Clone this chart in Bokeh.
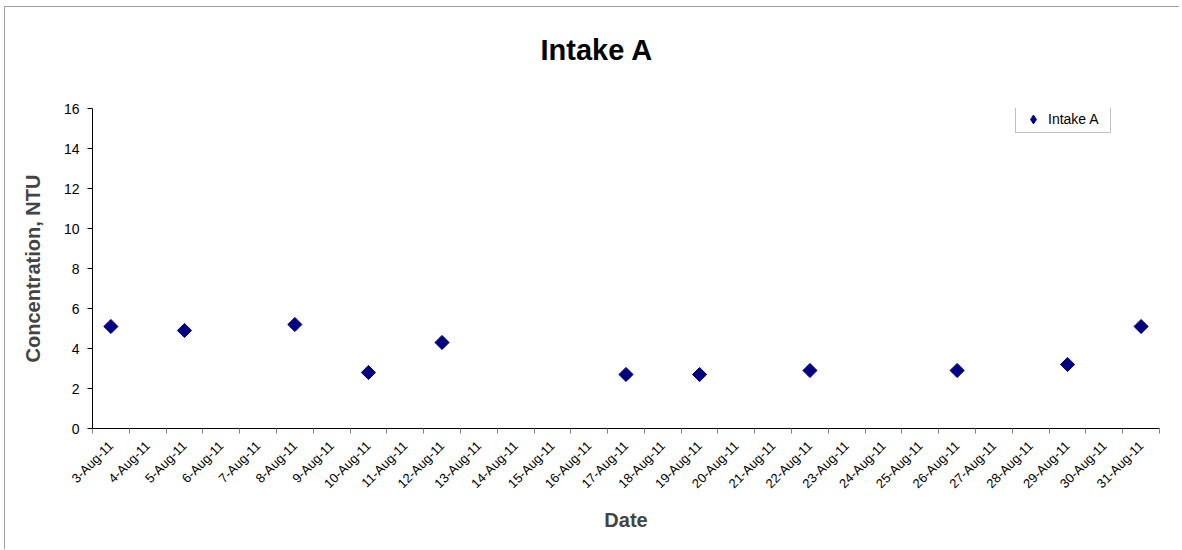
import math
from bokeh.plotting import figure
from bokeh.models import (ColumnDataSource, Range1d, LinearAxis, FixedTicker,
                          Legend, LegendItem, Title)
from bokeh.embed import file_html
from bokeh.resources import INLINE

dates = ["%d-Aug-11" % d for d in range(3, 32)]
obs_dates = ["3-Aug-11", "5-Aug-11", "8-Aug-11", "10-Aug-11", "12-Aug-11", "17-Aug-11",
             "19-Aug-11", "22-Aug-11", "26-Aug-11", "29-Aug-11", "31-Aug-11"]
intake_a = [5.1, 4.9, 5.2, 2.8, 4.3, 2.7, 2.7, 2.9, 2.9, 3.2, 5.1]
y_ticks = [0, 2, 4, 6, 8, 10, 12, 14, 16]
title_text = "Intake A"
series_name = "Intake A"

FONT = "Liberation Sans"
n = len(dates)

p = figure(x_range=Range1d(0, n), y_range=Range1d(0, 16), x_axis_location=None,
           width=1174, height=542, output_backend="svg", toolbar_location=None,
           frame_width=1067, frame_height=320,
           min_border_left=87, min_border_right=20, min_border_top=101, min_border_bottom=121)
p.title = None
p.styles = {"border-left": "1px solid #a0a0a0", "border-top": "1px solid #a0a0a0",
            "margin-left": "4px", "margin-top": "6px"}

p.outline_line_color = None
p.xgrid.grid_line_color = None
p.ygrid.grid_line_color = None
p.background_fill_color = "white"
p.border_fill_color = "white"

# invisible spacer between frame and title
spacer = LinearAxis(ticker=FixedTicker(ticks=[0]), major_label_overrides={0: ""},
                    axis_line_color=None, major_tick_line_color=None,
                    minor_tick_line_color=None, major_tick_in=0, major_tick_out=38,
                    major_label_standoff=0)
p.add_layout(spacer, "above")
p.add_layout(Title(text=title_text, text_font=FONT, text_font_size="29px",
                   text_font_style="bold", text_color="black", align="left",
                   offset=448, standoff=10, vertical_align="bottom"), "above")

# y axis
p.yaxis.ticker = FixedTicker(ticks=y_ticks)
p.yaxis.axis_label = "Concentration, NTU"
p.yaxis.axis_label_text_font = FONT
p.yaxis.axis_label_text_font_size = "20px"
p.yaxis.axis_label_text_font_style = "bold"
p.yaxis.axis_label_standoff = 17
p.yaxis.major_label_text_font = FONT
p.yaxis.major_label_text_font_size = "14px"
p.yaxis.major_label_text_color = "black"
p.yaxis.major_tick_in = 0
p.yaxis.major_tick_out = 5
p.yaxis.minor_tick_line_color = None
p.yaxis.axis_line_color = "black"
p.yaxis.major_tick_line_color = "black"
p.yaxis.major_label_standoff = 8

# tick-mark axis: ticks at category boundaries, no labels
bounds = list(range(n + 1))
tick_axis = LinearAxis(ticker=FixedTicker(ticks=bounds),
                       major_label_overrides={b: "" for b in bounds},
                       major_tick_in=0, major_tick_out=5, minor_tick_line_color=None,
                       axis_line_color="black", major_tick_line_color="#808080",
                       major_label_standoff=0)
p.add_layout(tick_axis, "below")

# label axis: category names at category centres, no ticks
centers = [i + 0.5 for i in range(n)]
label_axis = LinearAxis(ticker=FixedTicker(ticks=centers),
                        major_label_overrides={c: d for c, d in zip(centers, dates)},
                        axis_line_color=None, major_tick_line_color=None,
                        minor_tick_line_color=None, major_tick_in=0, major_tick_out=0,
                        major_label_orientation=math.pi / 4,
                        major_label_text_font=FONT, major_label_text_font_size="13px",
                        major_label_text_color="black", major_label_standoff=10,
                        axis_label="Date", axis_label_text_font=FONT,
                        axis_label_text_font_size="20px", axis_label_text_font_style="bold",
                        axis_label_standoff=10)
p.add_layout(label_axis, "below")

xpos = [dates.index(d) + 0.5 for d in obs_dates]
src = ColumnDataSource(dict(x=xpos, y=intake_a, date=obs_dates))
r = p.scatter("x", "y", source=src, marker="square", size=10, angle=math.pi / 4,
              fill_color="#000080", line_color="#000080")

# legend key glyph (diamond): hidden renderer used only for the legend swatch
key = p.scatter("x", "y", source=src, marker="diamond", size=10,
                fill_color="#000080", line_color="#000080", visible=False)

legend = Legend(items=[LegendItem(label=series_name, renderers=[key])],
                location=(923, 295), label_text_font=FONT, label_text_font_size="14px",
                label_text_color="black", glyph_width=30, glyph_height=22, label_standoff=0,
                label_width=60, label_height=18, click_policy="none",
                padding=2, margin=0, spacing=0, border_line_color="#808080",
                border_line_width=1, background_fill_color="white")
p.add_layout(legend, "center")

open("out.html", "w").write(file_html(p, INLINE))
